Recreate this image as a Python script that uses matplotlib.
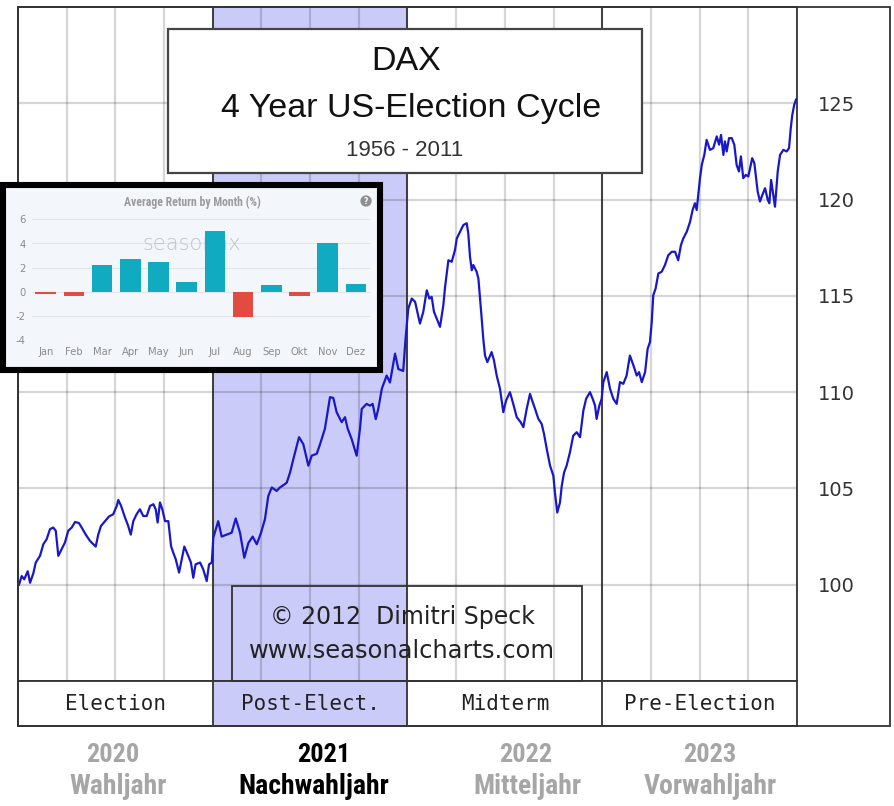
import numpy as np
import matplotlib.pyplot as plt
from matplotlib.patches import Rectangle
from matplotlib import font_manager

# DAX im 4-Jahres-Zyklus (Startwert = 100), Zeit in Jahren ab Beginn des Wahljahres
cycle_time = [
    0.005, 0.019, 0.032, 0.050, 0.062, 0.079, 0.091, 0.113, 0.130, 0.147,
    0.164, 0.181, 0.194, 0.207, 0.224, 0.241, 0.258, 0.276, 0.293, 0.313,
    0.327, 0.348, 0.370, 0.387, 0.399, 0.412, 0.426, 0.447, 0.467, 0.489,
    0.507, 0.515, 0.529, 0.549, 0.566, 0.579, 0.592, 0.609, 0.626, 0.643,
    0.661, 0.678, 0.695, 0.707, 0.717, 0.729, 0.741, 0.755, 0.772, 0.786,
    0.797, 0.810, 0.827, 0.841, 0.854, 0.871, 0.888, 0.900, 0.912, 0.935,
    0.951, 0.969, 0.981, 0.995,
    1.003, 1.028, 1.046, 1.072, 1.097, 1.118, 1.140, 1.162, 1.183, 1.205,
    1.226, 1.248, 1.268, 1.285, 1.303, 1.328, 1.345, 1.367, 1.380, 1.397,
    1.414, 1.443, 1.465, 1.491, 1.508, 1.534, 1.551, 1.576, 1.602, 1.619,
    1.636, 1.662, 1.679, 1.693, 1.713, 1.739, 1.756, 1.765, 1.790, 1.807,
    1.821, 1.837, 1.850, 1.868, 1.893, 1.910, 1.936, 1.953, 1.978, 1.990,
    2.000, 2.004, 2.022, 2.039, 2.064, 2.081, 2.099, 2.112, 2.124, 2.136,
    2.150, 2.167, 2.184, 2.193, 2.210, 2.227, 2.244, 2.253, 2.270, 2.287,
    2.304, 2.312, 2.321, 2.330, 2.338, 2.355, 2.364, 2.372, 2.381, 2.389,
    2.398, 2.410, 2.424, 2.432, 2.444, 2.458, 2.475, 2.492, 2.506, 2.526,
    2.543, 2.561, 2.581, 2.595, 2.612, 2.629, 2.643, 2.655, 2.672, 2.689,
    2.701, 2.715, 2.732, 2.749, 2.757, 2.769, 2.783, 2.792, 2.804, 2.817,
    2.834, 2.851, 2.869, 2.886, 2.903, 2.917, 2.937, 2.951, 2.963, 2.971,
    2.985, 2.997, 3.005, 3.023, 3.040, 3.057, 3.074, 3.091, 3.108, 3.125,
    3.142, 3.160, 3.177, 3.189, 3.203, 3.220, 3.233, 3.245, 3.254, 3.262,
    3.274, 3.288, 3.305, 3.322, 3.339, 3.357, 3.374, 3.390, 3.404, 3.416,
    3.434, 3.451, 3.464, 3.476, 3.485, 3.493, 3.502, 3.511, 3.524, 3.536,
    3.553, 3.570, 3.588, 3.600, 3.610, 3.622, 3.630, 3.639, 3.651, 3.665,
    3.678, 3.690, 3.702, 3.712, 3.724, 3.737, 3.750, 3.770, 3.781, 3.788,
    3.798, 3.810, 3.822, 3.836, 3.850, 3.858, 3.867, 3.878, 3.887, 3.901,
    3.913, 3.930, 3.947, 3.959, 3.968, 3.976, 3.986, 3.995,
]
dax_index = [
    100.0, 100.45, 100.28, 100.7, 100.1, 100.6, 101.15, 101.5, 102.1, 102.36,
    102.88, 102.97, 102.8, 101.5, 101.84, 102.19, 102.8, 102.97, 103.26, 103.2,
    102.97, 102.6, 102.27, 102.1, 101.98, 102.6, 103.05, 103.3, 103.54, 103.66,
    104.09, 104.4, 104.1, 103.5, 103.05, 102.6, 103.3, 103.66, 103.92, 103.57,
    103.57, 104.09, 104.18, 103.92, 103.23, 104.27, 103.92, 103.3, 103.3, 102.0,
    101.67, 101.32, 100.63, 101.32, 101.98, 101.58, 101.15, 100.36, 101.06, 101.15,
    100.8, 100.19, 101.06, 101.15,
    102.45, 103.3, 102.5, 102.6, 102.7, 103.44, 102.7, 101.4, 102.17, 102.5,
    102.1, 102.7, 103.4, 104.6, 105.05, 104.87, 105.05, 105.2, 105.3, 105.83,
    106.53, 107.66, 107.3, 106.18, 106.7, 106.8, 107.3, 108.1, 109.74, 109.7,
    108.96, 108.44, 108.7, 108.1, 107.57, 106.7, 108.1, 109.13, 109.39, 109.3,
    109.39, 108.6, 109.13, 110.17, 110.86, 110.5, 112.0, 111.2, 111.1, 112.78,
    113.9, 114.34, 114.86, 114.69, 113.56, 114.17, 115.29, 114.86, 114.95, 114.17,
    113.82, 113.39, 114.51, 115.47, 116.85, 116.77, 117.38, 117.98, 118.33, 118.68,
    118.77, 118.25, 117.03, 116.33, 116.6, 116.25, 115.9, 114.95, 113.82, 112.78,
    111.9, 111.56, 111.9, 112.08, 111.65, 110.86, 110.17, 108.96, 109.56, 110.0,
    109.39, 108.7, 108.44, 108.18, 109.13, 109.91, 109.48, 109.13, 108.61, 108.35,
    107.83, 107.05, 106.18, 105.66, 104.79, 103.75, 104.27, 105.13, 105.83, 106.18,
    106.87, 107.74, 107.92, 107.66, 109.04, 109.65, 110.0, 109.65, 109.3, 108.61,
    109.3, 109.65, 110.5, 111.04, 110.17, 109.65, 109.39, 110.52, 110.43, 110.86,
    111.9, 111.39, 110.86, 111.04, 110.52, 111.04, 112.25, 112.6, 113.64, 115.03,
    115.38, 116.16, 116.25, 116.6, 117.11, 117.29, 117.29, 116.85, 117.63, 117.98,
    118.33, 118.85, 119.46, 119.81, 119.46, 120.24, 121.11, 121.8, 122.32, 123.1,
    122.58, 122.67, 123.28, 122.85, 123.36, 122.32, 123.02, 122.5, 123.19, 123.19,
    122.85, 121.8, 121.46, 122.24, 121.11, 121.28, 121.2, 122.15, 121.89, 121.28,
    120.42, 119.9, 120.24, 120.59, 119.98, 119.81, 121.02, 120.24, 119.63, 121.46,
    122.32, 122.58, 122.5, 122.67, 123.71, 124.41, 124.93, 125.19,
]
y_ticks = [100, 105, 110, 115, 120, 125]

phases = ['Election', 'Post-Elect.', 'Midterm', 'Pre-Election']
years = ['2020', '2021', '2022', '2023']
year_names = ['Wahljahr', 'Nachwahljahr', 'Mitteljahr', 'Vorwahljahr']
year_colors = ['#a6a6a6', '#000000', '#a6a6a6', '#a6a6a6']

# seasonax: durchschnittliche Rendite je Monat (%)
months = ['Jan', 'Feb', 'Mar', 'Apr', 'May', 'Jun',
          'Jul', 'Aug', 'Sep', 'Okt', 'Nov', 'Dez']
avg_return = [-0.15, -0.35, 2.2, 2.7, 2.5, 0.85, 5.0, -2.05, 0.6, -0.3, 4.05, 0.65]

W, H = 895, 806
plt.rcParams['axes.unicode_minus'] = False
available = {f.name for f in font_manager.fontManager.ttflist}


def pick(*names):
    for n in names:
        if n in available:
            return n
    return 'DejaVu Sans'


narrow = pick('Liberation Sans Narrow', 'DejaVu Sans Condensed', 'Roboto Condensed', 'Liberation Sans')


def box(x0, y0, x1, y1):
    # pixel box (top-left origin) -> figure fraction [left, bottom, width, height]
    return [x0 / W, 1 - y1 / H, (x1 - x0) / W, (y1 - y0) / H]


def fxy(x, y):
    return x / W, 1 - y / H


fig = plt.figure(figsize=(W / 100, H / 100), dpi=100, facecolor='white')

# --- main chart ---
ax = fig.add_axes(box(18, 7, 797, 681))
ax.set_xlim(0, 4)
ax.set_ylim(95, 130)
ax.axvspan(1, 2, color='#cbcbfa', lw=0, zorder=0)
ax.set_xticks(np.arange(0, 4.01, 0.25))
ax.set_yticks(y_ticks)
ax.grid(True, color='black', alpha=0.16, lw=1.6)
ax.tick_params(axis='x', length=0, labelbottom=False)
ax.yaxis.tick_right()
ax.tick_params(axis='y', length=0, pad=15, labelsize=14, labelcolor='#333333')
for x in (1, 2, 3):
    ax.axvline(x, color='#333333', lw=1.3, zorder=2)
ax.plot(cycle_time, dax_index, color='#1818c8', lw=1.6, zorder=3)
for sp in ax.spines.values():
    sp.set_color('#333333')
    sp.set_linewidth(1.3)

# --- phase band ---
axb = fig.add_axes(box(18, 681, 797, 726))
axb.set_xlim(0, 4)
axb.set_ylim(0, 1)
axb.axvspan(1, 2, color='#cbcbfa', lw=0)
for x in (1, 2, 3):
    axb.axvline(x, color='#333333', lw=1.3)
for i, p in enumerate(phases):
    axb.text(i + 0.5, 0.5, p, ha='center', va='center', fontsize=15,
             family='DejaVu Sans Mono', color='#222222')
axb.set_xticks([])
axb.set_yticks([])
for sp in axb.spines.values():
    sp.set_color('#333333')
    sp.set_linewidth(1.3)

# outer frame incl. right label column
fig.add_artist(Rectangle(fxy(18, 726), (890 - 18) / W, (726 - 7) / H,
                         transform=fig.transFigure, fill=False, ec='#333333', lw=1.3, zorder=1))

# --- title box ---
fig.add_artist(Rectangle(fxy(168, 173), (642 - 168) / W, (173 - 29) / H,
                         transform=fig.transFigure, fc='white', ec='#444444', lw=1.6, zorder=1))
fig.text(*fxy(406, 70), 'DAX', ha='center', va='baseline', fontsize=24.5,
         family='Liberation Sans', color='#111111')
fig.text(*fxy(411, 117), '4 Year US-Election Cycle', ha='center', va='baseline',
         fontsize=24.5, family='Liberation Sans', color='#111111')
fig.text(*fxy(405, 156), '1956 - 2011', ha='center', va='baseline', fontsize=16,
         family='Liberation Sans', color='#333333')

# --- copyright box ---
fig.add_artist(Rectangle(fxy(232, 681), (582 - 232) / W, (681 - 586) / H,
                         transform=fig.transFigure, fill=False, ec='#333333', lw=1.3, zorder=1))
fig.text(*fxy(402, 624), '\u00a9 2012  Dimitri Speck', ha='center', va='baseline',
         fontsize=17, family='DejaVu Sans', color='#222222')
fig.text(*fxy(402, 658), 'www.seasonalcharts.com', ha='center', va='baseline',
         fontsize=17.4, family='DejaVu Sans', color='#222222')

# --- year labels below ---
year_x = [113, 324, 526, 710]
name_x = [118, 314, 527, 710]
for yx, nx, yr, nm, c in zip(year_x, name_x, years, year_names, year_colors):
    fig.text(*fxy(yx, 762), yr, ha='center', va='baseline', fontsize=19,
             family=narrow, weight='bold', color=c)
    fig.text(*fxy(nx, 794), nm, ha='center', va='baseline', fontsize=20,
             family=narrow, weight='bold', color=c)

# --- seasonax inset ---
fig.add_artist(Rectangle(fxy(3, 370), (380 - 3) / W, (370 - 185) / H,
                         transform=fig.transFigure, fc='#f3f6fa', ec='black', lw=4.4, zorder=3))
axi = fig.add_axes(box(31.6, 219.3, 370, 340.3), zorder=4)
axi.patch.set_visible(False)
axi.set_xlim(-0.5, 11.5)
axi.set_ylim(-4, 6)
xi = np.arange(len(months))
bar_colors = ['#10abc0' if v >= 0 else '#e24b40' for v in avg_return]
axi.bar(xi, avg_return, width=0.73, color=bar_colors, zorder=2)
axi.set_axisbelow(True)
axi.set_yticks([-4, -2, 0, 2, 4, 6])
axi.set_xticks(xi)
axi.set_xticklabels(months)
axi.grid(axis='y', color='#e1e5ea', lw=0.8)
axi.tick_params(length=0, labelsize=7.2, labelcolor='#8c8c8c')
axi.tick_params(axis='y', pad=4.5)
axi.tick_params(axis='x', pad=5)
for sp in axi.spines.values():
    sp.set_visible(False)
axi.text(0.474, 0.80, 'seasonax', transform=axi.transAxes, ha='center', va='center',
         fontsize=15, family='DejaVu Sans', weight='light', color='#bfc5cb', zorder=1)
fig.text(*fxy(192, 202), 'Average Return by Month (%)', ha='center', va='center',
         fontsize=8.5, family=narrow, weight='bold', color='#9b9b9b', zorder=5)
fig.text(*fxy(366, 201), '?', ha='center', va='center', fontsize=5.5, weight='bold',
         color='white', zorder=5,
         bbox=dict(boxstyle='circle,pad=0.15', fc='#8f8f8f', ec='none'))

fig.savefig('out.png', dpi=100)
